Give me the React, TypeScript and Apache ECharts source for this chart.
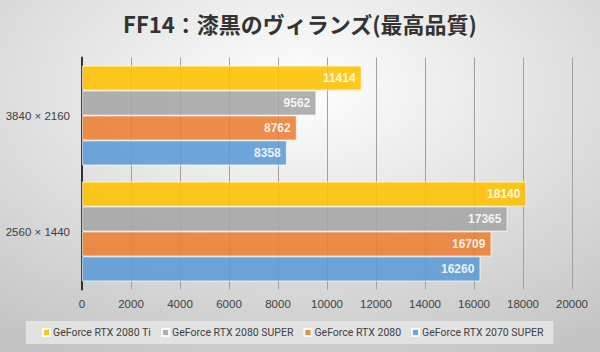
import React, { useEffect, useRef } from "react";
import * as echarts from "echarts";

const categories = ["3840 × 2160", "2560 × 1440"];
const seriesNames = ["GeForce RTX 2080 Ti", "GeForce RTX 2080 SUPER", "GeForce RTX 2080", "GeForce RTX 2070 SUPER"];
const rtx2080ti = [11414, 18140];
const rtx2080super = [9562, 17365];
const rtx2080 = [8762, 16709];
const rtx2070super = [8358, 16260];
const colors = ["#FFC000", "#A5A5A5", "#ED7D31", "#5B9BD5"];
const xTicks = { min: 0, max: 20000, interval: 2000 };

export default function App() {
  const ref = useRef<HTMLDivElement>(null);
  useEffect(() => {
    document.body.style.margin = "0";
    if (!ref.current) return;
    const chart = echarts.init(ref.current, null, { renderer: "svg" });
    const values = [rtx2080ti, rtx2080super, rtx2080, rtx2070super];
    const font = "'Liberation Sans', Arial, sans-serif";
    chart.setOption({
      animation: false,
      backgroundColor: {
        type: "radial",
        x: 0.5,
        y: 0.25,
        r: 0.85,
        colorStops: [
          { offset: 0, color: "#ffffff" },
          { offset: 1, color: "#c4c4c4" },
        ],
      },
      title: {
        text: "FF14：漆黒のヴィランズ(最高品質)",
        left: "center",
        top: 7,
        textStyle: {
          fontFamily: "'Noto Sans CJK JP', sans-serif",
          fontSize: 22,
          fontWeight: "bold",
          color: "#333333",
        },
      },
      legend: {
        data: seriesNames,
        left: 26,
        top: 321,
        width: 580,
        padding: [6, 10, 6, 16],
        backgroundColor: "rgba(228,228,228,0.9)",
        itemWidth: 7,
        itemHeight: 7,
        itemGap: 10,
        icon: "rect",
        textStyle: { fontSize: 10.5, color: "#404040", fontFamily: "Roboto, sans-serif", padding: [0, 0, 0, -2] },
      },
      grid: { left: 82, right: 28, top: 57.5, bottom: 62.5, containLabel: false },
      xAxis: {
        type: "value",
        min: xTicks.min,
        max: xTicks.max,
        interval: xTicks.interval,
        axisLine: { show: false },
        axisTick: { show: false },
        axisLabel: { color: "#404040", fontSize: 11.5, fontFamily: font, margin: 8, formatter: (v: number) => String(v) },
        splitLine: { show: true, lineStyle: { color: "#a0a0a0", width: 1 } },
      },
      yAxis: {
        type: "category",
        inverse: true,
        data: categories,
        axisLine: { show: true, lineStyle: { color: "#333333", width: 2 } },
        axisTick: { show: false },
        axisLabel: { color: "#404040", fontSize: 11.5, fontFamily: font, margin: 12 },
      },
      series: seriesNames.map((name, i) => ({
        name,
        type: "bar",
        data: values[i],
        barGap: "0%",
        barCategoryGap: "14%",
        itemStyle: { color: colors[i], opacity: 0.88, borderColor: "#ffffff", borderWidth: 0.8 },
        label: {
          show: true,
          position: "insideRight",
          distance: 6,
          color: "#ffffff",
          fontWeight: "bold",
          fontSize: 12,
          fontFamily: font,
        },
      })),
    });
    return () => chart.dispose();
  }, []);
  return <div ref={ref} style={{ width: 600, height: 352 }} />;
}
